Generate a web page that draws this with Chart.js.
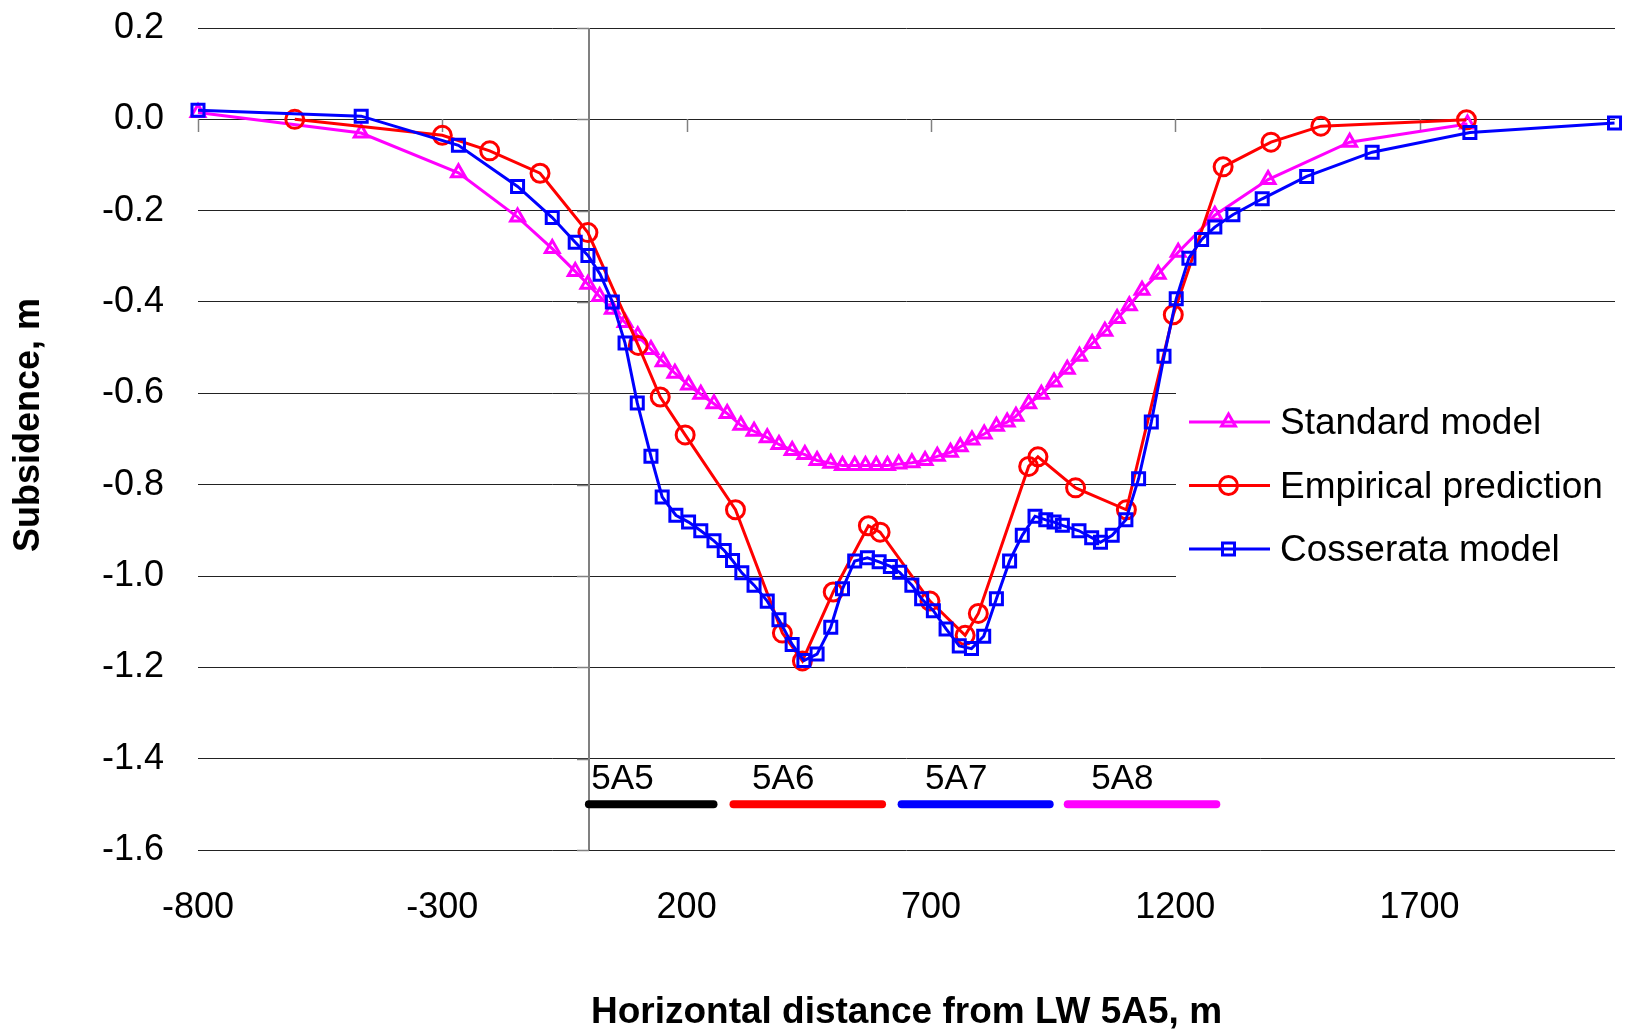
<!DOCTYPE html>
<html>
<head>
<meta charset="utf-8">
<script src="https://cdn.jsdelivr.net/npm/chart.js@4.4.1/dist/chart.umd.min.js"></script>
<style>
  html, body { margin: 0; padding: 0; background: #ffffff; }
  #wrap { width: 1627px; height: 1031px; }
</style>
</head>
<body>
<div id="wrap"><canvas id="c" width="1627" height="1031"></canvas></div>
<script>
// ---------------- data ----------------
const xTickValues = [-800, -300, 200, 700, 1200, 1700];
const yTickValues = [0.2, 0.0, -0.2, -0.4, -0.6, -0.8, -1.0, -1.2, -1.4, -1.6];

const seriesNames = ['Standard model', 'Empirical prediction', 'Cosserata model'];
const xTitle = 'Horizontal distance from LW 5A5, m';
const yTitle = 'Subsidence, m';

const standardX = [-800, -466, -267, -146, -75, -28, -2, 22, 48, 74, 100, 127, 152, 176, 204, 229, 256,
  283, 311, 338, 365, 389, 416, 442, 467, 495, 519, 544, 566, 588, 611, 634, 661, 688, 713, 740, 760,
  784, 809, 834, 856, 874, 900, 926, 952, 979, 1004, 1030, 1056, 1081, 1106, 1132, 1165, 1206, 1281,
  1390, 1557, 1798];
const standardY = [0.015, -0.030, -0.117, -0.214, -0.283, -0.333, -0.361, -0.388, -0.416, -0.445, -0.474,
  -0.504, -0.531, -0.556, -0.582, -0.602, -0.623, -0.644, -0.670, -0.683, -0.697, -0.712, -0.725, -0.734,
  -0.747, -0.753, -0.758, -0.758, -0.758, -0.758, -0.758, -0.755, -0.752, -0.747, -0.738, -0.729, -0.717,
  -0.702, -0.689, -0.672, -0.663, -0.650, -0.623, -0.602, -0.575, -0.547, -0.519, -0.491, -0.464, -0.436,
  -0.408, -0.374, -0.339, -0.291, -0.210, -0.132, -0.050, -0.010];

const empiricalX = [-602, -300, -203, -100, -2, 101, 146, 197, 300, 396, 437, 500, 572, 596, 698, 770, 797,
  900, 919, 996, 1100, 1196, 1298, 1396, 1498, 1796];
const empiricalY = [0.0, -0.035, -0.069, -0.118, -0.248, -0.495, -0.608, -0.691, -0.855, -1.125, -1.186,
  -1.035, -0.890, -0.904, -1.055, -1.130, -1.082, -0.760, -0.739, -0.807, -0.855, -0.428, -0.104, -0.050,
  -0.015, -0.001];

const cosserataX = [-800, -466, -267, -146, -75, -28, -2, 23, 48, 74, 99, 127, 150, 178, 204, 229, 256,
  277, 294, 313, 338, 365, 389, 416, 440, 467, 495, 519, 544, 570, 594, 617, 636, 661, 681, 705, 731,
  758, 783, 808, 834, 861, 887, 913, 935, 952, 969, 1003, 1029, 1047, 1071, 1099, 1125, 1151, 1177, 1202,
  1228, 1254, 1281, 1318, 1378, 1469, 1603, 1803, 2099];
const cosserataY = [0.020, 0.007, -0.057, -0.147, -0.215, -0.269, -0.298, -0.339, -0.400, -0.490, -0.621,
  -0.738, -0.827, -0.867, -0.882, -0.901, -0.923, -0.944, -0.966, -0.993, -1.020, -1.055, -1.096, -1.150,
  -1.185, -1.171, -1.112, -1.028, -0.967, -0.960, -0.969, -0.979, -0.992, -1.020, -1.050, -1.076, -1.116,
  -1.153, -1.159, -1.132, -1.050, -0.967, -0.911, -0.869, -0.877, -0.882, -0.889, -0.901, -0.916, -0.926,
  -0.911, -0.877, -0.787, -0.663, -0.519, -0.393, -0.304, -0.263, -0.236, -0.209, -0.174, -0.125, -0.072,
  -0.029, -0.008];

// longwall panels shown under the curves
const panelNames = ['5A5', '5A6', '5A7', '5A8'];
const panelStart = [0, 296, 640, 980];
const panelEnd = [255, 600, 943, 1284];
const panelLevel = [-1.5, -1.5, -1.5, -1.5];
const panelLabelX = [5, 334, 688, 1028];
const panelLabelY = [-1.466, -1.466, -1.466, -1.466];

// ---------------- styling ----------------
const FONT = "'Liberation Sans', Arial, sans-serif";
const MAGENTA = '#FF00FF', RED = '#FF0000', BLUE = '#0000FF';
const panelColors = ['#000000', RED, BLUE, MAGENTA];
const LINE_W = 3;
const R_RECT = 8.5, R_CIRCLE = 9, R_TRI = 8;

function lineSet(label, xs, ys, color, style, r) {
  return {
    label: label,
    data: xs.map((x, i) => ({ x: x, y: ys[i] })),
    borderColor: color,
    backgroundColor: color,
    borderWidth: LINE_W,
    pointStyle: style,
    pointRadius: r,
    pointHoverRadius: r,
    pointBorderWidth: LINE_W,
    pointBorderColor: color,
    pointBackgroundColor: 'rgba(0,0,0,0)',
    tension: 0,
    clip: false
  };
}

const datasets = [
  lineSet(seriesNames[2], cosserataX, cosserataY, BLUE, 'rect', R_RECT),
  lineSet(seriesNames[1], empiricalX, empiricalY, RED, 'circle', R_CIRCLE),
  lineSet(seriesNames[0], standardX, standardY, MAGENTA, 'triangle', R_TRI)
];
panelNames.forEach((n, i) => {
  datasets.push({
    label: n,
    data: [{ x: panelStart[i], y: panelLevel[i] }, { x: panelEnd[i], y: panelLevel[i] }],
    borderColor: panelColors[i],
    borderWidth: 8,
    borderCapStyle: 'round',
    pointRadius: 0,
    tension: 0,
    clip: false
  });
});

// ---------------- helpers ----------------
function drawMarker(ctx, style, x, y, r, color) {
  ctx.save();
  ctx.strokeStyle = color;
  ctx.lineWidth = LINE_W;
  ctx.beginPath();
  if (style === 'circle') {
    ctx.arc(x, y, r, 0, Math.PI * 2);
  } else if (style === 'rect') {
    const h = r * Math.SQRT1_2;
    ctx.rect(x - h, y - h, 2 * h, 2 * h);
  } else {
    ctx.moveTo(x, y - r);
    ctx.lineTo(x + r * Math.sqrt(3) / 2, y + r / 2);
    ctx.lineTo(x - r * Math.sqrt(3) / 2, y + r / 2);
    ctx.closePath();
  }
  ctx.stroke();
  ctx.restore();
}

const decorPlugin = {
  id: 'decor',
  beforeDatasetsDraw(chart) {
    const ctx = chart.ctx, xs = chart.scales.x, ys = chart.scales.y, ca = chart.chartArea;
    ctx.save();
    // vertical axis at x = 0
    const x0 = Math.round(xs.getPixelForValue(0));
    ctx.strokeStyle = '#808080';
    ctx.lineWidth = 2;
    ctx.beginPath();
    ctx.moveTo(x0, ca.top);
    ctx.lineTo(x0, ca.bottom);
    ctx.stroke();
    ctx.lineWidth = 1.5;
    yTickValues.forEach(v => {
      const py = Math.round(ys.getPixelForValue(v)) + 0.5;
      ctx.beginPath();
      ctx.moveTo(x0 - 12, py);
      ctx.lineTo(x0, py);
      ctx.stroke();
    });
    // tick marks on the horizontal axis (y = 0)
    const y0 = Math.round(ys.getPixelForValue(0));
    xTickValues.forEach(v => {
      const px = Math.round(xs.getPixelForValue(v)) + 0.5;
      ctx.beginPath();
      ctx.moveTo(px, y0);
      ctx.lineTo(px, y0 + 13);
      ctx.stroke();
    });
    // legend background
    ctx.fillStyle = '#ffffff';
    ctx.fillRect(1176, 305, 1627 - 1176, 360);
    ctx.restore();
  },
  afterDatasetsDraw(chart) {
    const ctx = chart.ctx, xs = chart.scales.x, ys = chart.scales.y;
    ctx.save();
    // y-axis title
    ctx.save();
    ctx.translate(29, 425);
    ctx.rotate(-Math.PI / 2);
    ctx.fillStyle = '#000';
    ctx.font = 'bold 36px ' + FONT;
    ctx.textAlign = 'center';
    ctx.textBaseline = 'middle';
    ctx.fillText(yTitle, 0, 0);
    ctx.restore();
    // panel labels
    ctx.fillStyle = '#000';
    ctx.font = '35px ' + FONT;
    ctx.textAlign = 'left';
    ctx.textBaseline = 'alphabetic';
    panelNames.forEach((n, i) => {
      ctx.fillText(n, xs.getPixelForValue(panelLabelX[i]), ys.getPixelForValue(panelLabelY[i]));
    });
    // legend
    const items = [
      { name: seriesNames[0], color: MAGENTA, style: 'triangle', r: R_TRI },
      { name: seriesNames[1], color: RED, style: 'circle', r: R_CIRCLE },
      { name: seriesNames[2], color: BLUE, style: 'rect', r: R_RECT }
    ];
    const rows = [422, 485.5, 549];
    ctx.font = '37px ' + FONT;
    items.forEach((it, i) => {
      const y = rows[i];
      ctx.strokeStyle = it.color;
      ctx.lineWidth = LINE_W;
      ctx.beginPath();
      ctx.moveTo(1189, y);
      ctx.lineTo(1270, y);
      ctx.stroke();
      drawMarker(ctx, it.style, 1228.5, y, it.r, it.color);
      ctx.fillStyle = '#000';
      ctx.fillText(it.name, 1280, y + 12);
    });
    ctx.restore();
  }
};

new Chart(document.getElementById('c'), {
  type: 'line',
  data: { datasets: datasets },
  options: {
    responsive: false,
    animation: false,
    devicePixelRatio: 1,
    layout: { padding: { top: 28, right: 10, left: 0, bottom: 0 } },
    plugins: { legend: { display: false }, tooltip: { enabled: false } },
    scales: {
      x: {
        type: 'linear',
        min: -800,
        max: 2100,
        afterBuildTicks: s => { s.ticks = xTickValues.map(v => ({ value: v })); },
        afterFit: s => { s.height = 181; s.paddingLeft = 0; s.paddingRight = 0; },
        grid: { display: false, drawTicks: false },
        border: { display: false },
        ticks: {
          color: '#000',
          font: { family: FONT, size: 36 },
          padding: 36,
          maxRotation: 0,
          autoSkip: false,
          callback: v => String(v)
        },
        title: {
          display: true,
          text: xTitle,
          color: '#000',
          font: { family: FONT, size: 37, weight: 'bold', lineHeight: 1.0 },
          padding: { top: 0, bottom: 0 }
        }
      },
      y: {
        type: 'linear',
        min: -1.6,
        max: 0.2,
        afterBuildTicks: s => { s.ticks = yTickValues.map(v => ({ value: v })); },
        afterFit: s => { s.width = 198; s.paddingTop = 0; s.paddingBottom = 0; },
        grid: { color: '#222222', lineWidth: 1, drawTicks: false },
        border: { display: false },
        ticks: {
          color: '#000',
          font: { family: FONT, size: 36 },
          padding: 34,
          callback: v => Number(v).toFixed(1)
        },
        title: { display: false }
      }
    }
  },
  plugins: [decorPlugin]
});
</script>
</body>
</html>
